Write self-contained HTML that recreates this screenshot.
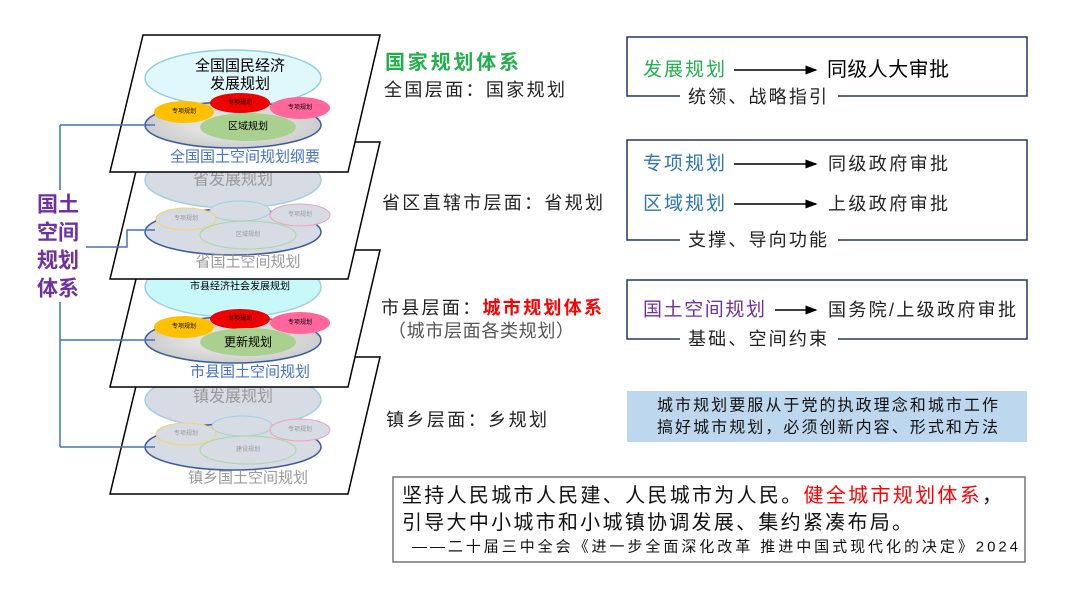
<!DOCTYPE html>
<html><head><meta charset="utf-8"><style>
html,body{margin:0;padding:0;background:#fff;}
svg{display:block;font-family:"Liberation Sans","Noto Sans CJK SC",sans-serif;}
</style></head><body>
<svg width="1080" height="605" viewBox="0 0 1080 605" xmlns="http://www.w3.org/2000/svg">
<defs>
<radialGradient id="marble" cx="50%" cy="50%" r="60%"><stop offset="0" stop-color="#f2f2f2"/><stop offset="0.6" stop-color="#d8d8d8"/><stop offset="1" stop-color="#c4c4c4"/></radialGradient>
<marker id="ar" markerWidth="8" markerHeight="8" refX="7" refY="4" orient="auto"><path d="M0,1 L8,4 L0,7 Z" fill="#000"/></marker>
</defs>
<g dominant-baseline="central" text-anchor="middle">
<g transform="translate(0,322)">
<polygon points="143,35 380,35 348,172 110,172" fill="#fff" stroke="#000" stroke-width="1.5"/>
<ellipse cx="233" cy="78" rx="88" ry="28" fill="#d6dbe4" stroke="#9fd0e0" stroke-width="1.5"/>
<ellipse cx="233" cy="125" rx="88" ry="23" fill="#d6dbe4" stroke="#3a5aa0" stroke-width="1.5"/>
<ellipse cx="242" cy="104" rx="30" ry="10" fill="#d6dbe4" stroke="#9fd0e0"/>
<ellipse cx="186" cy="112" rx="30" ry="11" fill="#d6dbe4" stroke="#f5d36b"/>
<ellipse cx="300" cy="108" rx="30" ry="11" fill="#d6dbe4" stroke="#f0a0c0"/>
<ellipse cx="248" cy="128" rx="48" ry="14" fill="#d6dbe4" stroke="#a8d8a0"/>
<text x="233" y="75" font-size="16" fill="#999">镇发展规划</text>
<text x="186" y="112" font-size="6" fill="#999">专项规划</text>
<text x="300" y="108" font-size="6" fill="#999">专项规划</text>
<text x="248" y="128" font-size="6" fill="#999">建设规划</text>
<text x="248" y="156" font-size="15" fill="#999">镇乡国土空间规划</text>
</g>
<g transform="translate(0,215)">
<polygon points="143,35 380,35 348,172 110,172" fill="#fff" stroke="#000" stroke-width="1.5"/>
<ellipse cx="233" cy="72" rx="88" ry="30" fill="#c8f8fa" stroke="#9fd0e0" stroke-width="1.5"/>
<ellipse cx="233" cy="125" rx="88" ry="23" fill="url(#marble)" stroke="#3a5aa0" stroke-width="1.5"/>
<ellipse cx="240" cy="104" rx="30" ry="10" fill="#ee0000"/>
<ellipse cx="184" cy="112" rx="30" ry="11" fill="#ffc000"/>
<ellipse cx="300" cy="108" rx="30" ry="11" fill="#ff6699"/>
<ellipse cx="248" cy="127" rx="48" ry="14" fill="#a9d08e"/>
<text x="240" y="72" font-size="10" fill="#000">市县经济社会发展规划</text>
<text x="240" y="104" font-size="6">专项规划</text>
<text x="184" y="112" font-size="6">专项规划</text>
<text x="300" y="108" font-size="6">专项规划</text>
<text x="248" y="127" font-size="12">更新规划</text>
<text x="250" y="157" font-size="15" fill="#4472c4">市县国土空间规划</text>
</g>
<g transform="translate(0,107)">
<polygon points="143,35 380,35 348,172 110,172" fill="#fff" stroke="#000" stroke-width="1.5"/>
<ellipse cx="233" cy="73" rx="88" ry="28" fill="#d6dbe4" stroke="#9fd0e0" stroke-width="1.5"/>
<ellipse cx="233" cy="125" rx="88" ry="23" fill="#d6dbe4" stroke="#3a5aa0" stroke-width="1.5"/>
<ellipse cx="240" cy="104" rx="30" ry="10" fill="#d6dbe4" stroke="#9fd0e0"/>
<ellipse cx="186" cy="112" rx="30" ry="11" fill="#d6dbe4" stroke="#f5d36b"/>
<ellipse cx="300" cy="108" rx="30" ry="11" fill="#d6dbe4" stroke="#f0a0c0"/>
<ellipse cx="248" cy="128" rx="48" ry="14" fill="#d6dbe4" stroke="#a8d8a0"/>
<text x="233" y="73" font-size="16" fill="#999">省发展规划</text>
<text x="186" y="112" font-size="6" fill="#999">专项规划</text>
<text x="300" y="108" font-size="6" fill="#999">专项规划</text>
<text x="248" y="128" font-size="6" fill="#999">区域规划</text>
<text x="248" y="155" font-size="15" fill="#999">省国土空间规划</text>
</g>
<g>
<polygon points="143,35 380,35 348,172 110,172" fill="#fff" stroke="#000" stroke-width="1.5"/>
<ellipse cx="233" cy="78" rx="88" ry="28" fill="#e0f8fb" stroke="#8fd0e0" stroke-width="1.5"/>
<ellipse cx="233" cy="125" rx="88" ry="23" fill="url(#marble)" stroke="#3a5aa0" stroke-width="1.5"/>
<ellipse cx="240" cy="103" rx="30" ry="10" fill="#ee0000"/>
<ellipse cx="184" cy="112" rx="30" ry="11" fill="#ffc000"/>
<ellipse cx="300" cy="108" rx="30" ry="11" fill="#ff6699"/>
<ellipse cx="248" cy="127" rx="48" ry="14" fill="#a9d08e"/>
<text x="240" y="66" font-size="15">全国国民经济</text>
<text x="240" y="84" font-size="15">发展规划</text>
<text x="240" y="103" font-size="6">专项规划</text>
<text x="184" y="112" font-size="6">专项规划</text>
<text x="300" y="108" font-size="6">专项规划</text>
<text x="248" y="127" font-size="10">区域规划</text>
<text x="245" y="157" font-size="15" fill="#4472c4">全国国土空间规划纲要</text>
</g>
<g fill="none" stroke="#4472c4" stroke-width="1.5">
<path d="M60,125 L60,447"/>
<path d="M60,125 L155,125"/>
<path d="M60,247 L127,247 L127,230 L155,230"/>
<path d="M60,340 L155,340"/>
<path d="M60,447 L155,447"/>
</g>
<rect x="34" y="190" width="52" height="112" fill="#fff"/>
<g font-size="21" font-weight="bold" fill="#7030a0">
<text x="58" y="205">国土</text><text x="58" y="233">空间</text><text x="58" y="261">规划</text><text x="58" y="289">体系</text>
</g>
</g>
<g dominant-baseline="central" font-size="18" fill="#222">
<text x="385" y="63" font-size="20" font-weight="bold" fill="#22b04c" textLength="134" lengthAdjust="spacing">国家规划体系</text>
<text x="384" y="90" textLength="181" lengthAdjust="spacing">全国层面：国家规划</text>
<text x="382" y="203" textLength="221" lengthAdjust="spacing">省区直辖市层面：省规划</text>
<text x="381" y="308" textLength="221" lengthAdjust="spacing">市县层面：<tspan fill="#ff0000" font-weight="bold">城市规划体系</tspan></text>
<text x="388" y="331" fill="#555" textLength="186" lengthAdjust="spacing">（城市层面各类规划）</text>
<text x="386" y="420" textLength="161" lengthAdjust="spacing">镇乡层面：乡规划</text>
</g>
<g fill="none" stroke="#1f3864" stroke-width="1.5">
<rect x="627" y="37" width="400" height="59"/>
<rect x="627" y="140" width="400" height="100"/>
<rect x="627" y="280" width="400" height="59"/>
</g>
<g fill="#fff">
<rect x="680" y="88" width="158" height="16"/>
<rect x="680" y="232" width="158" height="16"/>
<rect x="680" y="331" width="158" height="16"/>
</g>
<g stroke="#000" stroke-width="1.5" marker-end="url(#ar)">
<line x1="734" y1="70" x2="816" y2="70"/>
<line x1="734" y1="164" x2="816" y2="164"/>
<line x1="734" y1="204" x2="816" y2="204"/>
<line x1="775" y1="310" x2="816" y2="310"/>
</g>
<g dominant-baseline="central" font-size="19" fill="#222">
<text x="643" y="70" fill="#22b04c" textLength="82" lengthAdjust="spacing">发展规划</text>
<text x="827" y="70" font-size="20" fill="#000" textLength="122" lengthAdjust="spacing">同级人大审批</text>
<text x="688" y="97" font-size="18" textLength="139" lengthAdjust="spacing">统领、战略指引</text>
<text x="643" y="164" fill="#2e75b6" textLength="82" lengthAdjust="spacing">专项规划</text>
<text x="828" y="164" font-size="18" textLength="120" lengthAdjust="spacing">同级政府审批</text>
<text x="643" y="204" fill="#2e75b6" textLength="82" lengthAdjust="spacing">区域规划</text>
<text x="828" y="204" font-size="18" textLength="120" lengthAdjust="spacing">上级政府审批</text>
<text x="688" y="240" font-size="18" textLength="139" lengthAdjust="spacing">支撑、导向功能</text>
<text x="643" y="310" fill="#7030a0" textLength="122" lengthAdjust="spacing">国土空间规划</text>
<text x="828" y="310" font-size="18" textLength="188" lengthAdjust="spacing">国务院/上级政府审批</text>
<text x="688" y="339" font-size="18" textLength="139" lengthAdjust="spacing">基础、空间约束</text>
</g>
<rect x="627" y="391" width="400" height="51" fill="#bdd7ee"/>
<g dominant-baseline="central" font-size="16" fill="#111">
<text x="657" y="406" textLength="341" lengthAdjust="spacing">城市规划要服从于党的执政理念和城市工作</text>
<text x="657" y="428" textLength="341" lengthAdjust="spacing">搞好城市规划，必须创新内容、形式和方法</text>
</g>
<rect x="393" y="477" width="632" height="85" fill="#fff" stroke="#777" stroke-width="1.5"/>
<g dominant-baseline="central" fill="#111">
<text x="402" y="496" font-size="20" textLength="600" lengthAdjust="spacing">坚持人民城市人民建、人民城市为人民。<tspan fill="#ff0000">健全城市规划体系</tspan>，</text>
<text x="402" y="523" font-size="20" textLength="510" lengthAdjust="spacing">引导大中小城市和小城镇协调发展、集约紧凑布局。</text>
<text x="412" y="547" font-size="15" textLength="606" lengthAdjust="spacing">——二十届三中全会《进一步全面深化改革 推进中国式现代化的决定》2024</text>
</g>
</svg>
</body></html>
